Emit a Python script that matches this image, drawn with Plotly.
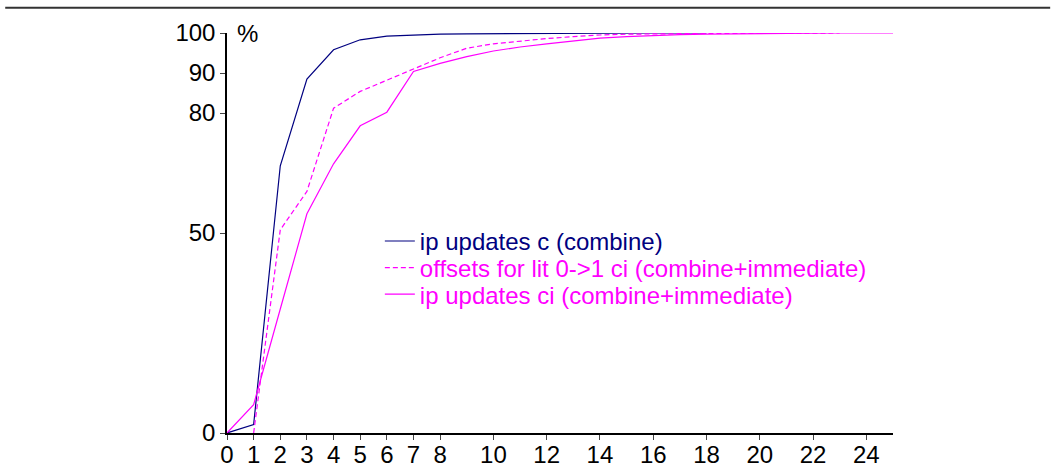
import plotly.graph_objects as go

# Cumulative distribution (%) of value sizes
x_c = list(range(0, 19))
ip_c = [0, 2.1, 66.8, 88.5, 95.8, 98.3, 99.2, 99.5, 99.7, 99.8,
        99.85, 99.9, 99.9, 99.95, 99.95, 99.95, 100, 100, 100]

x_off = list(range(1, 24))
off_ci = [0, 50.8, 60.4, 81.2, 85.4, 88.3, 91.0, 93.8, 96.2, 97.3,
          98.0, 98.6, 99.1, 99.5, 99.7, 99.8, 99.85, 99.9, 99.9, 99.95,
          99.95, 100, 100]

x_ci = list(range(0, 26))
ip_ci = [0, 7.1, 31.0, 54.8, 67.3, 76.8, 80.2, 90.4, 92.4, 94.1,
         95.5, 96.5, 97.3, 98.0, 98.7, 99.1, 99.4, 99.6, 99.7, 99.8,
         99.85, 99.9, 99.95, 100, 100, 100]

x_ticks = [0, 1, 2, 3, 4, 5, 6, 7, 8, 10, 12, 14, 16, 18, 20, 22, 24]
y_ticks = [0, 50, 80, 90, 100]

NAVY = "#000080"
MAGENTA = "#ff00ff"
FONT = "Liberation Sans, Arial, sans-serif"
FS = 24

fig = go.Figure()
fig.add_trace(go.Scatter(
    x=x_c, y=ip_c, mode="lines", legend="legend",
    line=dict(color=NAVY, width=1.2),
    name=f'<span style="color:{NAVY}">ip updates c (combine)</span>'))
fig.add_trace(go.Scatter(
    x=x_off, y=off_ci, mode="lines", legend="legend2",
    line=dict(color=MAGENTA, width=1.2, dash="5px,3px"),
    name=f'<span style="color:{MAGENTA}">offsets for lit 0-&gt;1 ci (combine+immediate)</span>'))
fig.add_trace(go.Scatter(
    x=x_ci, y=ip_ci, mode="lines", legend="legend3",
    line=dict(color=MAGENTA, width=1.2),
    name=f'<span style="color:{MAGENTA}">ip updates ci (combine+immediate)</span>'))

legend_common = dict(x=0.2295, xanchor="left", yanchor="middle",
                     bgcolor="rgba(0,0,0,0)", font=dict(size=FS),
                     itemwidth=30)

fig.update_layout(
    width=1055, height=468,
    margin=dict(l=227, r=162, t=33, b=35),
    paper_bgcolor="white", plot_bgcolor="white",
    font=dict(family=FONT, size=FS, color="black"),
    showlegend=True,
    legend=dict(y=0.479, **legend_common),
    legend2=dict(y=0.4125, **legend_common),
    legend3=dict(y=0.346, **legend_common),
    xaxis=dict(range=[0, 25], tickvals=x_ticks, ticks="outside", ticklen=5,
               tickwidth=1.2, showline=True, linecolor="black", linewidth=1.5,
               showgrid=False, zeroline=False, tickfont=dict(size=FS),
               ticklabelstandoff=-6, automargin=False),
    yaxis=dict(range=[0, 100], tickvals=y_ticks, ticks="outside", ticklen=5,
               tickwidth=1.2, showline=True, linecolor="black", linewidth=1.5,
               showgrid=False, zeroline=False, tickfont=dict(size=FS),
               automargin=False),
)

fig.add_annotation(x=0, y=1, xref="paper", yref="paper", text="%",
                   showarrow=False, xanchor="left", yanchor="middle",
                   xshift=8, font=dict(size=FS, family=FONT))

# Rule across the top of the page
fig.add_shape(type="line", xref="paper", yref="paper",
              x0=-0.333, x1=1.236, y0=1.063, y1=1.063,
              line=dict(color="#333333", width=2))

fig.write_html("out.html")
